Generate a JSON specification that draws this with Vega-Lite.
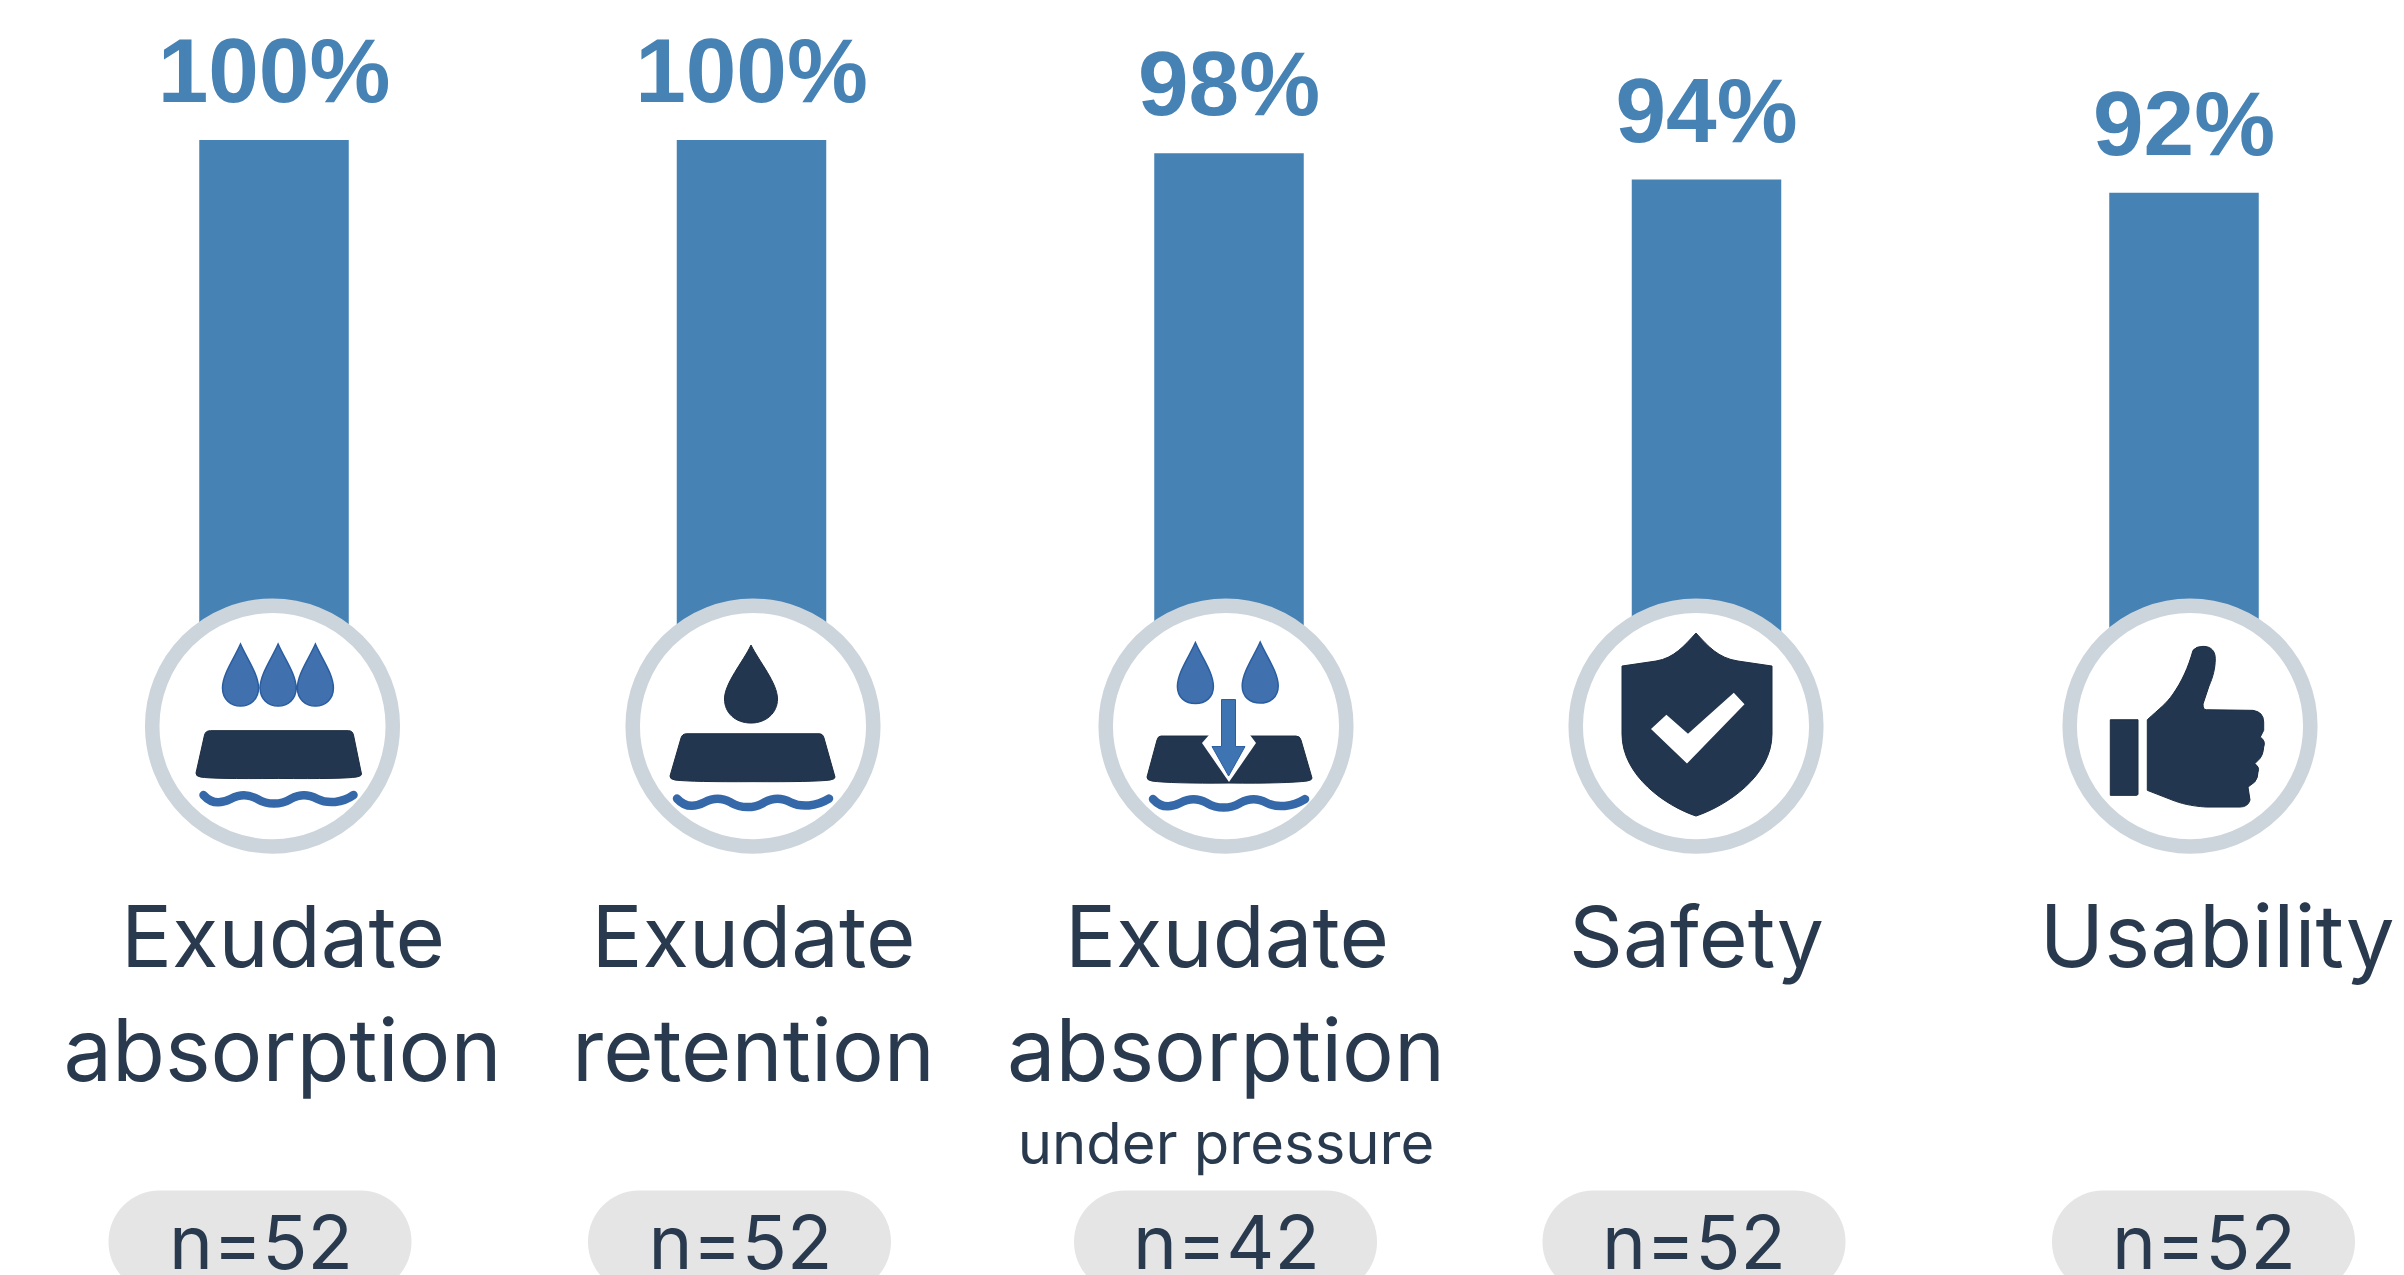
{"$schema":"https://vega.github.io/schema/vega-lite/v6.json","autosize":"none","width":2404,"height":1275,"padding":0,"background":"white","view":{"stroke":null},
"data":{"values":[
{"category":"Exudate absorption","value":100,"label":"100%","n":"n=52","line1":"Exudate","line2":"absorption"},
{"category":"Exudate retention","value":100,"label":"100%","n":"n=52","line1":"Exudate","line2":"retention"},
{"category":"Exudate absorption under pressure","value":98,"label":"98%","n":"n=42","line1":"Exudate","line2":"absorption","line3":"under pressure"},
{"category":"Safety","value":94,"label":"94%","n":"n=52","line1":"Safety"},
{"category":"Usability","value":92,"label":"92%","n":"n=52","line1":"Usability"}]},
"encoding":{"x":{"field":"category","type":"nominal","sort":null,"axis":null,"scale":{"type":"point","padding":0,"range":[274,2184]}}},
"layer":[
{"mark":{"type":"bar","size":149.5,"color":"#4682B4"},"encoding":{"y":{"field":"value","type":"quantitative","axis":null,"scale":{"domain":[-71.97,121.2],"nice":false,"zero":false}}}},
{"mark":{"type":"text","font":"Liberation Sans","fontWeight":"bold","fontSize":91,"color":"#4682B4","baseline":"alphabetic","dy":-38},"encoding":{"y":{"field":"value","type":"quantitative"},"text":{"field":"label"}}},

{"transform":[{"filter":"datum.category==='Exudate absorption'"}],"layer":[
{"mark":{"type":"bar","size":303,"cornerRadius":51,"color":"#e5e5e5","clip":true,"xOffset":-14},"encoding":{"y":{"datum":-59.18},"y2":{"datum":-74.7}}},
{"mark":{"type":"circle","size":57888,"fill":"white","stroke":"#cdd5dc","strokeWidth":14.5,"opacity":1,"xOffset":-1.5},"encoding":{"y":{"datum":11.2}}},
{"mark":{"type":"point","size":4,"filled":true,"fill":"#4070ad","stroke":"#2a5da0","strokeWidth":1.5,"opacity":1,"xOffset":-1.5,"shape":"M-32,-82c-6,14 -18,30 -18,44c0,11 8,18 18,18c10,0 18,-7 18,-18c0,-14 -12,-30 -18,-44z M5.6,-82c-6,14 -18,30 -18,44c0,11 8,18 18,18c10,0 18,-7 18,-18c0,-14 -12,-30 -18,-44z M42.9,-82c-6,14 -18,30 -18,44c0,11 8,18 18,18c10,0 18,-7 18,-18c0,-14 -12,-30 -18,-44z"},"encoding":{"y":{"datum":11.2}}},
{"mark":{"type":"point","size":4,"filled":true,"fill":"#22364f","stroke":"#1d2d42","strokeWidth":1,"opacity":1,"xOffset":-1.5,"shape":"M-62,4.6 L76,4.6 Q80,4.6 81,9 L89,48 Q89.5,50 84,51 Q70,53 6,52.4 Q-60,53 -72,51 Q-77,50 -76.5,47 L-68,9 Q-67,4.6 -62,4.6 Z"},"encoding":{"y":{"datum":11.2}}},
{"mark":{"type":"point","size":4,"filled":false,"fill":"transparent","stroke":"#3568a8","strokeWidth":8.5,"strokeCap":"round","opacity":1,"xOffset":-1.5,"shape":"M-69,69 C-60,79 -50,77 -42,73 C-32,68 -25,68 -15,73 C-5,79 8,79 18,73 C28,68 35,68 45,73 C55,78 70,77 81,69"},"encoding":{"y":{"datum":11.2}}},
{"mark":{"type":"text","font":"Inter","fontSize":85,"color":"#2a3a4e","baseline":"alphabetic","dx":9},"encoding":{"y":{"datum":-25.26},"text":{"field":"line1"}}},
{"mark":{"type":"text","font":"Inter","fontSize":86.5,"color":"#2a3a4e","baseline":"alphabetic","dx":8.5},"encoding":{"y":{"datum":-42.58},"text":{"field":"line2"}}},
{"mark":{"type":"text","font":"Inter","fontSize":74.5,"color":"#2a3a4e","baseline":"alphabetic","dx":-13},"encoding":{"y":{"datum":-71.06},"text":{"field":"n"}}}
]},

{"transform":[{"filter":"datum.category==='Exudate retention'"}],"layer":[
{"mark":{"type":"bar","size":303,"cornerRadius":51,"color":"#e5e5e5","clip":true,"xOffset":-12},"encoding":{"y":{"datum":-59.18},"y2":{"datum":-74.7}}},
{"mark":{"type":"circle","size":57888,"fill":"white","stroke":"#cdd5dc","strokeWidth":14.5,"opacity":1,"xOffset":1.5},"encoding":{"y":{"datum":11.2}}},
{"mark":{"type":"point","size":4,"filled":true,"fill":"#22364f","stroke":"#1d2d42","strokeWidth":1,"opacity":1,"xOffset":1.5,"shape":"M-2,-81 c-8,17 -26.5,38 -26.5,54 c0,14 11,24 26.5,24 c15,0 26.5,-10 26.5,-24 c0,-16 -18,-37 -26.5,-54 Z"},"encoding":{"y":{"datum":11.2}}},
{"mark":{"type":"point","size":4,"filled":true,"fill":"#22364f","stroke":"#1d2d42","strokeWidth":1,"opacity":1,"xOffset":1.5,"shape":"M-66,7.7 L66,7.7 Q70,7.7 71,12 L82,51 Q82.5,53 77,54 Q60,56 0,55.6 Q-60,56 -78,54 Q-83.5,53 -83,50 L-72,12 Q-71,7.7 -66,7.7 Z"},"encoding":{"y":{"datum":11.2}}},
{"mark":{"type":"point","size":4,"filled":false,"fill":"transparent","stroke":"#3568a8","strokeWidth":8.5,"strokeCap":"round","opacity":1,"xOffset":1.5,"shape":"M-76,72.5 C-67,82.5 -57,80.5 -49,76.5 C-39,71.5 -32,71.5 -22,76.5 C-12,82.5 1,82.5 11,76.5 C21,71.5 28,71.5 38,76.5 C48,81.5 63,80.5 76,72.5"},"encoding":{"y":{"datum":11.2}}},
{"mark":{"type":"text","font":"Inter","fontSize":85,"color":"#2a3a4e","baseline":"alphabetic","dx":2},"encoding":{"y":{"datum":-25.26},"text":{"field":"line1"}}},
{"mark":{"type":"text","font":"Inter","fontSize":86.5,"color":"#2a3a4e","baseline":"alphabetic","dx":2},"encoding":{"y":{"datum":-42.58},"text":{"field":"line2"}}},
{"mark":{"type":"text","font":"Inter","fontSize":74.5,"color":"#2a3a4e","baseline":"alphabetic","dx":-11},"encoding":{"y":{"datum":-71.06},"text":{"field":"n"}}}
]},

{"transform":[{"filter":"datum.category==='Exudate absorption under pressure'"}],"layer":[
{"mark":{"type":"bar","size":303,"cornerRadius":51,"color":"#e5e5e5","clip":true,"xOffset":-3.5},"encoding":{"y":{"datum":-59.18},"y2":{"datum":-74.7}}},
{"mark":{"type":"circle","size":57888,"fill":"white","stroke":"#cdd5dc","strokeWidth":14.5,"opacity":1,"xOffset":-3},"encoding":{"y":{"datum":11.2}}},
{"mark":{"type":"point","size":4,"filled":true,"fill":"#4070ad","stroke":"#2a5da0","strokeWidth":1.5,"opacity":1,"xOffset":-3,"shape":"M-30.6,-83.5c-6,14 -18,30 -18,44c0,11 8,17 18,17c10,0 18,-6 18,-17c0,-14 -12,-30 -18,-44z M34.2,-84c-6,14 -18,30 -18,44c0,11 8,17 18,17c10,0 18,-6 18,-17c0,-14 -12,-30 -18,-44z"},"encoding":{"y":{"datum":11.2}}},
{"mark":{"type":"point","size":4,"filled":true,"fill":"#22364f","stroke":"#1d2d42","strokeWidth":1,"opacity":1,"xOffset":-3,"shape":"M-65,10 L70,10 Q74,10 75,14 L86,52 Q86.5,54 81,55 Q60,57.5 3,57 Q-55,57.5 -74,55 Q-79.5,54 -79,51 L-69,14 Q-68,10 -65,10 Z"},"encoding":{"y":{"datum":11.2}}},
{"mark":{"type":"point","size":4,"filled":true,"fill":"white","opacity":1,"xOffset":-3,"shape":"M-17,9 L24,9 L30,17 L3,56 L-24,17 Z"},"encoding":{"y":{"datum":11.2}}},
{"mark":{"type":"point","size":4,"filled":true,"fill":"#3f74b2","stroke":"#2a5da0","strokeWidth":1,"opacity":1,"xOffset":-3,"shape":"M-4.5,-26.5 L9.5,-26.5 L9.5,20.5 L19,20.5 L2.6,50 L-14,20.5 L-4.5,20.5 Z"},"encoding":{"y":{"datum":11.2}}},
{"mark":{"type":"point","size":4,"filled":false,"fill":"transparent","stroke":"#3568a8","strokeWidth":8.5,"strokeCap":"round","opacity":1,"xOffset":-3,"shape":"M-73,73 C-64,83 -54,81 -46,77 C-36,72 -29,72 -19,77 C-9,83 4,83 14,77 C24,72 31,72 41,77 C51,82 66,81 79,73"},"encoding":{"y":{"datum":11.2}}},
{"mark":{"type":"text","font":"Inter","fontSize":85,"color":"#2a3a4e","baseline":"alphabetic","dx":-2},"encoding":{"y":{"datum":-25.26},"text":{"field":"line1"}}},
{"mark":{"type":"text","font":"Inter","fontSize":86.5,"color":"#2a3a4e","baseline":"alphabetic","dx":-3},"encoding":{"y":{"datum":-42.58},"text":{"field":"line2"}}},
{"mark":{"type":"text","font":"Inter","fontSize":58,"color":"#2a3a4e","baseline":"alphabetic","dx":-3},"encoding":{"y":{"datum":-55.15},"text":{"field":"line3"}}},
{"mark":{"type":"text","font":"Inter","fontSize":74.5,"color":"#2a3a4e","baseline":"alphabetic","dx":-2.5},"encoding":{"y":{"datum":-71.06},"text":{"field":"n"}}}
]},

{"transform":[{"filter":"datum.category==='Safety'"}],"layer":[
{"mark":{"type":"bar","size":303,"cornerRadius":51,"color":"#e5e5e5","clip":true,"xOffset":-12.5},"encoding":{"y":{"datum":-59.18},"y2":{"datum":-74.7}}},
{"mark":{"type":"circle","size":57888,"fill":"white","stroke":"#cdd5dc","strokeWidth":14.5,"opacity":1,"xOffset":-10.5},"encoding":{"y":{"datum":11.2}}},
{"mark":{"type":"point","size":4,"filled":true,"fill":"#22364f","stroke":"#1d2d42","strokeWidth":1,"opacity":1,"xOffset":-10.5,"shape":"M0,-93 C-12,-80 -22,-68 -40,-65 L-74,-60 L-74,8 C-74,50 -30,80 0,90 C30,80 76,50 76,8 L76,-60 L42,-65 C22,-68 12,-80 0,-93 Z"},"encoding":{"y":{"datum":11.2}}},
{"mark":{"type":"point","size":4,"filled":true,"fill":"white","opacity":1,"xOffset":-10.5,"shape":"M-45,3 L-29.6,-11.4 L-8,7.8 L37.8,-33.3 L48.5,-21.9 L-9,37.4 Z"},"encoding":{"y":{"datum":11.2}}},
{"mark":{"type":"text","font":"Inter","fontSize":84,"color":"#2a3a4e","baseline":"alphabetic","dx":-10},"encoding":{"y":{"datum":-25.26},"text":{"field":"line1"}}},
{"mark":{"type":"text","font":"Inter","fontSize":74.5,"color":"#2a3a4e","baseline":"alphabetic","dx":-12.5},"encoding":{"y":{"datum":-71.06},"text":{"field":"n"}}}
]},

{"transform":[{"filter":"datum.category==='Usability'"}],"layer":[
{"mark":{"type":"bar","size":303,"cornerRadius":51,"color":"#e5e5e5","clip":true,"xOffset":19.5},"encoding":{"y":{"datum":-59.18},"y2":{"datum":-74.7}}},
{"mark":{"type":"circle","size":57888,"fill":"white","stroke":"#cdd5dc","strokeWidth":14.5,"opacity":1,"xOffset":6},"encoding":{"y":{"datum":11.2}}},
{"mark":{"type":"point","size":4,"filled":true,"fill":"#22364f","stroke":"#1d2d42","strokeWidth":1,"opacity":1,"xOffset":6,"shape":"M-79.7,-6.3 L-52,-6.3 L-52,68 Q-52,69.3 -54,69.3 L-79.7,69.3 Z M-42.7,-6.3 C-30,-18 -24,-22 -17,-32 C-8,-45 -2,-58 3,-75.7 Q6,-79.7 13,-79.7 C22,-79.7 25.3,-74 25.3,-67.3 C25.3,-58 23,-49 19,-40 L13,-22 Q13,-16.3 16.3,-16.3 L63,-15.7 Q73.7,-14 73.7,-4 L73.7,4.3 L70.3,11 Q76,15 73.7,21 Q73,29 69.7,32.7 L64.7,37.7 Q70,41 68,46 Q68,52 64.7,56 L58,61 L60,74 Q58,81 50,81 L16.3,81 C0,80 -10,77 -17,74.3 L-42.7,64.3 Z"},"encoding":{"y":{"datum":11.2}}},
{"mark":{"type":"text","font":"Inter","fontSize":87,"color":"#2a3a4e","baseline":"alphabetic","dx":33},"encoding":{"y":{"datum":-25.26},"text":{"field":"line1"}}},
{"mark":{"type":"text","font":"Inter","fontSize":74.5,"color":"#2a3a4e","baseline":"alphabetic","dx":20},"encoding":{"y":{"datum":-71.06},"text":{"field":"n"}}}
]}
]}
